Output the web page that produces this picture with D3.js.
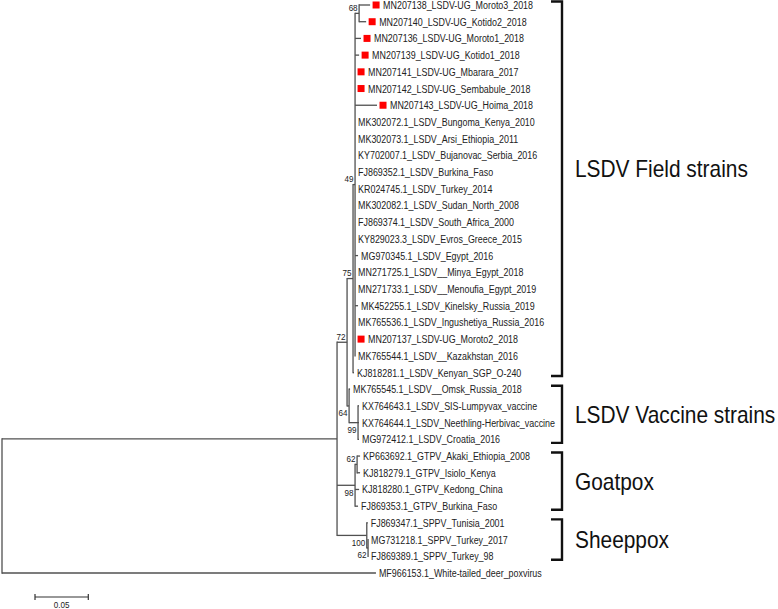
<!DOCTYPE html>
<meta charset="utf-8">
<style>
    body { margin: 0; background: #fff; }
    .branch { fill: none; stroke: #505050; stroke-width: 1.3px; }
    .leaf text { font: 11px "Liberation Sans", Arial, sans-serif; fill: #222; }
    .boot { font: 9.5px "Liberation Sans", Arial, sans-serif; fill: #222; }
    .bracket { fill: none; stroke: #111; stroke-width: 2.4px; }
    .clade { font: 24px "Liberation Sans", Arial, sans-serif; fill: #111; }
    .scalebar { stroke: #333; stroke-width: 1.2px; fill: none; }
</style>
<svg></svg>
<script src="https://cdn.jsdelivr.net/npm/d3@7"></script>
<script>

    var width = 778,
        height = 609;

    // tree, branch lengths in substitutions/site, bootstrap as node names
    var treeNewick = [
        "((((((MN207138_LSDV-UG_Moroto3_2018:0.0103,MN207140_LSDV-UG_Kotido2_2018:0.0066)68:0.0038,",
        "MN207136_LSDV-UG_Moroto1_2018:0.0056,MN207139_LSDV-UG_Kotido1_2018:0.0038,",
        "MN207141_LSDV-UG_Mbarara_2017:0,MN207142_LSDV-UG_Sembabule_2018:0,",
        "MN207143_LSDV-UG_Hoima_2018:0.0206,MK302072.1_LSDV_Bungoma_Kenya_2010:0,",
        "MK302073.1_LSDV_Arsi_Ethiopia_2011:0,KY702007.1_LSDV_Bujanovac_Serbia_2016:0,",
        "FJ869352.1_LSDV_Burkina_Faso:0,KR024745.1_LSDV_Turkey_2014:0,",
        "MK302082.1_LSDV_Sudan_North_2008:0,FJ869374.1_LSDV_South_Africa_2000:0,",
        "KY829023.3_LSDV_Evros_Greece_2015:0,MG970345.1_LSDV_Egypt_2016:0.0028,",
        "MN271725.1_LSDV__Minya_Egypt_2018:0,MN271733.1_LSDV__Menoufia_Egypt_2019:0,",
        "MK452255.1_LSDV_Kinelsky_Russia_2019:0.0028,MK765536.1_LSDV_Ingushetiya_Russia_2016:0,",
        "MN207137_LSDV-UG_Moroto2_2018:0,MK765544.1_LSDV__Kazakhstan_2016:0)49:0.0019,",
        "KJ818281.1_LSDV_Kenyan_SGP_O-240:0.0009)75:0.0056,",
        "(MK765545.1_LSDV__Omsk_Russia_2018:0.0009,(KX764643.1_LSDV_SIS-Lumpyvax_vaccine:0.0009,",
        "KX764644.1_LSDV_Neethling-Herbivac_vaccine:0.0009,MG972412.1_LSDV_Croatia_2016:0.0009)99:0.0084)64:0.0019)72:0.0094,",
        "((KP663692.1_GTPV_Akaki_Ethiopia_2008:0.0028,KJ818279.1_GTPV_Isiolo_Kenya:0.0028)62:0.0019,",
        "KJ818280.1_GTPV_Kedong_China:0.0038,FJ869353.1_GTPV_Burkina_Faso:0.0028)98:0.0169,",
        "(FJ869347.1_SPPV_Tunisia_2001:0.0009,(MG731218.1_SPPV_Turkey_2017:0,FJ869389.1_SPPV_Turkey_98:0)62:0.0012)100:0.0279):0.3143,",
        "MF966153.1_White-tailed_deer_poxvirus:0.3508);"
    ].join("");

    // Ugandan isolates marked with a red square
    var markedStrains = [
        "MN207138_LSDV-UG_Moroto3_2018", "MN207140_LSDV-UG_Kotido2_2018",
        "MN207136_LSDV-UG_Moroto1_2018", "MN207139_LSDV-UG_Kotido1_2018",
        "MN207141_LSDV-UG_Mbarara_2017", "MN207142_LSDV-UG_Sembabule_2018",
        "MN207143_LSDV-UG_Hoima_2018", "MN207137_LSDV-UG_Moroto2_2018"
    ];

    var cladeNames = ["LSDV Field strains", "LSDV Vaccine strains", "Goatpox", "Sheeppox"];
    var cladeFirst = ["MN207138_LSDV-UG_Moroto3_2018", "MK765545.1_LSDV__Omsk_Russia_2018",
        "KP663692.1_GTPV_Akaki_Ethiopia_2008", "FJ869347.1_SPPV_Tunisia_2001"];
    var cladeLast = ["KJ818281.1_LSDV_Kenyan_SGP_O-240", "MG972412.1_LSDV_Croatia_2016",
        "FJ869353.1_GTPV_Burkina_Faso", "FJ869389.1_SPPV_Turkey_98"];
    // row the clade name sits on (null = middle of the bracket)
    var cladeLabelAt = ["FJ869352.1_LSDV_Burkina_Faso", null, null, null];

    var scaleBarValue = 0.05;

    function parseNewick(s) {
        var ancestors = [], tree = {}, tokens = s.split(/\s*(;|\(|\)|,|:)\s*/);
        for (var i = 0; i < tokens.length; i++) {
            var token = tokens[i], sub;
            switch (token) {
                case "(": sub = {}; tree.children = [sub]; ancestors.push(tree); tree = sub; break;
                case ",": sub = {}; ancestors[ancestors.length - 1].children.push(sub); tree = sub; break;
                case ")": tree = ancestors.pop(); break;
                case ":": break;
                default:
                    var prev = tokens[i - 1];
                    if (prev === ")" || prev === "(" || prev === ",") tree.name = token;
                    else if (prev === ":") tree.length = parseFloat(token);
            }
        }
        return tree;
    }

    var root = d3.hierarchy(parseNewick(treeNewick));
    root.each(function(d) {
        d.depthLen = d.parent ? d.parent.depthLen + (d.data.length || 0) : 0;
    });

    var leaves = root.leaves();

    var x = d3.scaleLinear().domain([0, 1]).range([2, 1068]);
    var y = d3.scalePoint().domain(leaves.map(function(d) { return d.data.name; })).range([5, 573]);

    root.eachAfter(function(d) {
        d.px = x(d.depthLen);
        if (d.children) d.py = (d.children[0].py + d.children[d.children.length - 1].py) / 2;
        else d.py = y(d.data.name);
    });

    var svg = d3.select("svg")
        .attr("width", width)
        .attr("height", height);

    var g = svg.append("g");

    // horizontal branches
    g.selectAll(".hb")
        .data(root.descendants().filter(function(d) { return d.parent; }))
        .enter().append("line")
        .attr("class", "branch")
        .attr("x1", function(d) { return d.parent.px; })
        .attr("x2", function(d) { return Math.max(d.px, d.parent.px + 0.01); })
        .attr("y1", function(d) { return d.py; })
        .attr("y2", function(d) { return d.py; });

    // vertical connectors
    g.selectAll(".vb")
        .data(root.descendants().filter(function(d) { return d.children; }))
        .enter().append("line")
        .attr("class", "branch")
        .attr("x1", function(d) { return d.px; })
        .attr("x2", function(d) { return d.px; })
        .attr("y1", function(d) { return d.children[0].py - 0.65; })
        .attr("y2", function(d) { return d.children[d.children.length - 1].py + 0.65; });

    var sx = 0.81;

    var leaf = g.selectAll(".leaf")
        .data(leaves)
        .enter().append("g")
        .attr("class", "leaf");

    leaf.filter(function(d) { return markedStrains.indexOf(d.data.name) >= 0; })
        .append("rect")
        .attr("x", function(d) { return d.px + 2.5; })
        .attr("y", function(d) { return d.py - 3.5; })
        .attr("width", 7)
        .attr("height", 7)
        .attr("fill", "#ff0000");

    leaf.append("text")
        .attr("transform", function(d) {
            var off = markedStrains.indexOf(d.data.name) >= 0 ? 13 : 3;
            return "translate(" + (d.px + off) + "," + (d.py + 4) + ") scale(" + sx + ",1)";
        })
        .text(function(d) { return d.data.name; });

    // bootstrap values
    g.selectAll(".boot")
        .data(root.descendants().filter(function(d) { return d.children && d.data.name; }))
        .enter().append("text")
        .attr("class", "boot")
        .attr("text-anchor", "end")
        .attr("transform", function(d) {
            var first = d.parent && d.parent.children[0] === d;
            var yy = first ? d.py - 2.5 : d.py + 10.5;
            return "translate(" + (d.px - 1.5) + "," + yy + ") scale(0.85,1)";
        })
        .text(function(d) { return d.data.name; });

    // clade brackets
    var bx = 562;
    cladeNames.forEach(function(name, i) {
        var y0 = y(cladeFirst[i]) - 3.5,
            y1 = y(cladeLast[i]) + 3.5,
            ly = cladeLabelAt[i] ? y(cladeLabelAt[i]) - 3.8 : (y0 + y1) / 2;
        svg.append("path")
            .attr("class", "bracket")
            .attr("d", "M" + (bx - 11) + "," + y0 + "H" + bx + "V" + y1 + "H" + (bx - 11));
        svg.append("text")
            .attr("class", "clade")
            .attr("transform", "translate(" + (bx + 13) + "," + (ly + 8.5) + ") scale(0.87,1)")
            .text(name);
    });

    // scale bar
    var sb0 = 35, sb1 = sb0 + x(scaleBarValue) - x(0), sby = 597;
    svg.append("path")
        .attr("class", "scalebar")
        .attr("d", "M" + sb0 + "," + sby + "H" + sb1 + "M" + sb0 + "," + (sby - 3) + "V" + (sby + 3) +
            "M" + sb1 + "," + (sby - 3) + "V" + (sby + 3));
    svg.append("text")
        .attr("class", "boot")
        .attr("text-anchor", "middle")
        .attr("transform", "translate(" + ((sb0 + sb1) / 2) + ",608) scale(0.85,1)")
        .text(d3.format(".2f")(scaleBarValue));

</script>
